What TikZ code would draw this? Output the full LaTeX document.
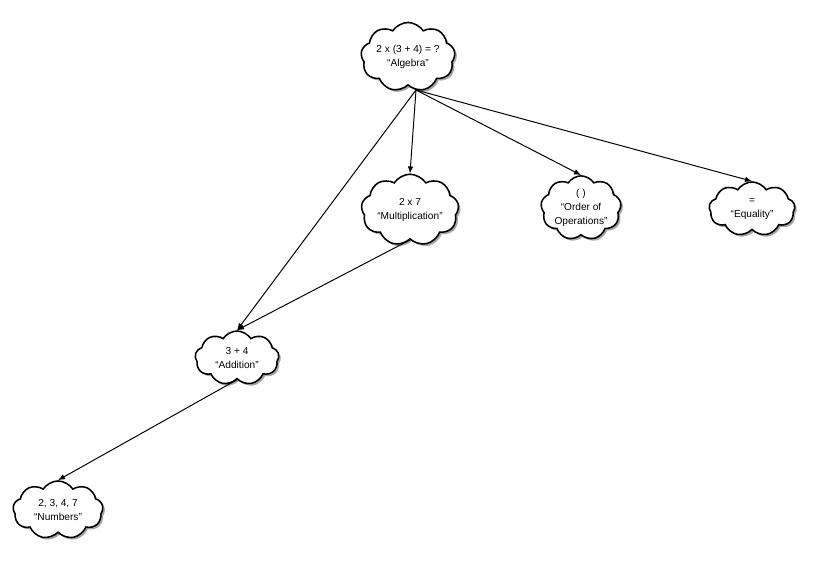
\documentclass[tikz,border=0pt]{standalone}
\usepackage{fontspec}
\setmainfont{Liberation Sans}
\usetikzlibrary{shapes.symbols,shadows,arrows.meta}

\tikzset{
  idea/.style={cloud, cloud puffs=9, cloud puff arc=115, aspect=1.4, draw, line width=1.1pt, fill=white,
    drop shadow={shadow xshift=1.5pt, shadow yshift=-1.5pt, opacity=0.7},
    minimum width=2cm, minimum height=1.35cm, inner sep=0pt, align=center,
    font=\fontsize{7.2}{10}\selectfont},
  link/.style={-{Latex[length=5pt,width=4pt]}, line width=0.7pt}
}

\begin{document}
\begin{tikzpicture}[x=0.025cm, y=-0.025cm, color=black]

\useasboundingbox (0,0) rectangle (820,563);

\node (alg) at (408,57)[idea, aspect=1.6]{2 x (3 + 4) = ?\\``Algebra''};
\node (mul) at (410,210)[idea, aspect=1.6]{2 x 7\\``Multiplication''};
\node (ord) at (581,208)[idea]{( )\\``Order of\\Operations''};
\node (equ) at (752,209)[idea, minimum width=2.15cm]{=\\``Equality''};
\node (add) at (237,358)[idea, minimum width=2.1cm]{3 + 4\\``Addition''};
\node (num) at (58,510)[idea, minimum width=2.25cm]{2, 3, 4, 7\\``Numbers''};

\coordinate (out) at (416,90);

\draw[link] (out) -- (mul.north);
\draw[link] (out) -- (add.north);
\draw[link] (out) -- (ord.north);
\draw[link] (out) -- (equ.north);
\draw[link] (mul.south) -- (add.north);
\draw[link] (add.south) -- (num.north);

\end{tikzpicture}
\end{document}
